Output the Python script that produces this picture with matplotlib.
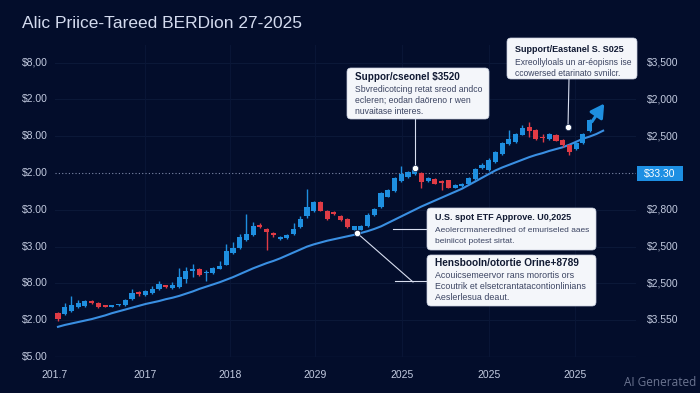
import matplotlib
matplotlib.use("Agg")
import matplotlib.pyplot as plt
from matplotlib.patches import FancyBboxPatch
from matplotlib.lines import Line2D
from matplotlib.transforms import Affine2D
import numpy as np

# ---------------- data ----------------
title = "Alic Priice-Tareed BERDion 27-2025"

opens = [1.20, 1.18, 1.25, 1.35, 1.38, 1.52, 1.47, 1.39, 1.37, 1.40,
         1.40, 1.57, 1.73, 1.68, 1.73, 1.84, 1.95, 1.88, 1.89, 2.13,
         2.33, 2.38, 2.27, 2.28, 2.40, 2.51, 2.83, 2.95, 3.17, 3.31,
         3.58, 3.49, 3.35, 3.20, 3.23, 3.33, 3.53, 3.82, 3.96, 4.21,
         3.96, 3.94, 3.83, 3.76, 3.46, 3.46, 3.55, 3.85, 4.07, 4.36,
         4.51, 4.78, 4.89, 4.96, 4.99, 4.78, 4.84, 4.75, 4.80, 4.60,
         4.64, 4.71, 4.84, 5.13, 5.07, 5.29, 5.52, 5.79, 5.83, 6.04,
         6.24, 6.17, 5.96, 5.93, 6.04, 5.90, 5.77, 5.64, 5.81, 6.13]
closes = [1.02, 1.36, 1.41, 1.46, 1.52, 1.46, 1.36, 1.36, 1.40, 1.42,
          1.56, 1.73, 1.71, 1.80, 1.86, 1.98, 1.89, 1.95, 2.18, 2.34,
          2.38, 2.24, 2.30, 2.43, 2.47, 2.88, 2.97, 3.26, 3.35, 3.55,
          3.53, 3.40, 3.31, 3.26, 3.31, 3.49, 3.76, 4.07, 4.21, 3.98,
          3.74, 3.89, 3.71, 3.53, 3.55, 3.57, 3.85, 4.03, 4.46, 4.53,
          4.87, 4.98, 5.02, 5.07, 4.75, 4.86, 4.71, 4.73, 4.60, 4.68,
          4.71, 4.87, 5.11, 5.23, 5.34, 5.56, 5.81, 5.93, 6.06, 6.22,
          6.15, 5.93, 5.94, 6.06, 5.88, 5.75, 5.56, 5.82, 6.06, 6.45]
highs = [1.23, 1.46, 1.65, 1.54, 1.56, 1.54, 1.50, 1.40, 1.41, 1.43,
         1.58, 1.86, 1.79, 1.82, 1.92, 2.06, 1.97, 2.03, 2.43, 2.45,
         2.52, 2.41, 2.36, 2.45, 2.60, 3.08, 3.12, 3.33, 3.88, 3.67,
         3.65, 3.51, 3.41, 3.28, 3.33, 3.64, 3.82, 4.57, 4.24, 4.24,
         4.00, 3.97, 3.86, 3.78, 3.57, 3.59, 3.90, 4.05, 4.49, 4.56,
         4.90, 5.18, 5.05, 5.10, 5.02, 4.88, 4.87, 4.82, 4.82, 4.70,
         4.73, 4.89, 5.14, 5.26, 5.42, 5.59, 5.84, 6.17, 6.09, 6.31,
         6.38, 6.20, 6.06, 6.09, 6.06, 5.93, 5.80, 5.85, 6.09, 6.48]
lows = [0.98, 1.15, 1.23, 1.33, 1.35, 1.44, 1.34, 1.35, 1.36, 1.39,
        1.39, 1.55, 1.66, 1.66, 1.70, 1.82, 1.87, 1.86, 1.87, 2.01,
        2.18, 2.21, 2.06, 2.26, 2.38, 2.49, 2.80, 2.93, 3.14, 3.29,
        3.50, 2.92, 3.25, 3.18, 3.21, 3.31, 3.51, 3.79, 3.94, 3.96,
        3.72, 3.87, 3.69, 3.51, 3.44, 3.44, 3.53, 3.83, 4.05, 4.34,
        4.49, 4.76, 4.87, 4.94, 4.60, 4.76, 4.69, 4.54, 4.58, 4.58,
        4.62, 4.69, 4.82, 5.11, 5.05, 5.27, 5.50, 5.77, 5.81, 6.02,
        5.97, 5.91, 5.83, 5.91, 5.86, 5.72, 5.50, 5.62, 5.79, 6.11]
moving_avg = [0.82, 0.87, 0.91, 0.95, 0.99, 1.03, 1.08, 1.13, 1.19, 1.24,
              1.29, 1.34, 1.39, 1.44, 1.48, 1.52, 1.57, 1.61, 1.66, 1.72,
              1.78, 1.85, 1.91, 1.97, 2.03, 2.10, 2.17, 2.25, 2.33, 2.41,
              2.48, 2.55, 2.61, 2.68, 2.76, 2.84, 2.92, 3.00, 3.06, 3.11,
              3.16, 3.20, 3.24, 3.28, 3.32, 3.37, 3.42, 3.48, 3.55, 3.64,
              3.73, 3.82, 3.91, 4.00, 4.09, 4.17, 4.25, 4.33, 4.41, 4.49,
              4.57, 4.67, 4.77, 4.87, 4.97, 5.07, 5.15, 5.22, 5.29, 5.36,
              5.43, 5.49, 5.54, 5.60, 5.65, 5.70, 5.77, 5.85, 5.93, 5.99,
              6.06, 6.15]

left_labels = ["$5.00", "$2.00", "$8.00", "$3.00", "$3.00", "$2.00", "$8.00", "$2.00", "$8,00"]
right_labels = ["$3.550", "$2,500", "$2,500", "$2,800", "$33.30", "$2,500", "$2,000", "$3,500"]
highlight_label = "$33.30"
x_labels = ["201.7", "2017", "2018", "2029", "2025", "2025", "2025"]

notes = [
    ("Suppor/cseonel $3520",
     ["Sbvredicotcing retat sreod andco", "ecleren; eodan daöreno r wen", "nuvaitase interes."]),
    ("Support/Eastanel S. S025",
     ["Exreollyloals un ar-éopisns ise", "ccowersed etarinato svnilcr."]),
    ("U.S. spot ETF Approve. U0,2025",
     ["Aeolercrmaneredined of emuriseled aaes", "beiniicot potest sirtat."]),
    ("Hensbooln/otortie Orine+8789",
     ["Acouicsemeervor rans morortis ors", "Ecoutrik et elsetcrantatacontionlinians", "Aeslerlesua deaut."]),
]

# ---------------- style / layout ----------------
W, H = 700, 393
BG = "#030d2b"
UP = "#1e8fe0"
DOWN = "#e03b45"
MA_C = "#3a8fe2"
TXT = "#c3cbe0"
FONT = "Liberation Sans"

plt.rcParams["font.family"] = [FONT, "DejaVu Sans"]

fig = plt.figure(figsize=(W / 100, H / 100), dpi=100, facecolor=BG)
T = Affine2D().scale(1, -1).translate(0, H)  # top-down pixel coordinates

step = 6.73
x0px = 58.0
xmin, xmax = -0.45, (636 - x0px) / step
ppu = 36.8
ymax = (357 - 45) / ppu
ax_left = x0px + xmin * step
ax = fig.add_axes([ax_left / W, 36 / H, (636 - ax_left) / W, 312 / H])
ax.set_facecolor(BG)
ax.set_xlim(xmin, xmax)
ax.set_ylim(0, ymax)
for s in ax.spines.values():
    s.set_visible(False)
ax.tick_params(left=False, bottom=False, labelleft=False, labelbottom=False)

# grid
for yv in range(1, 9):
    if yv != 5:
        ax.axhline(yv, color="#0c1939", lw=0.7, zorder=0)
ax.axhline(0, color="#1a2a50", lw=0.9, zorder=0)
ax.axhline(5, color="#7f8bab", lw=0.8, ls=(0, (1, 2)), zorder=1)
x_label_pos = [-0.45, 12.93, 25.56, 38.2, 51.1, 64.0, 76.8]
for xp in x_label_pos[1:]:
    ax.axvline(xp, color="#0a1637", lw=0.7, zorder=0)

# candles
o = np.array(opens); c = np.array(closes)
hi = np.array(highs); lo = np.array(lows)
idx = np.arange(len(o))
cols = [UP if cc >= oo else DOWN for oo, cc in zip(o, c)]
ax.vlines(idx, lo, hi, colors=cols, lw=1.0, zorder=3)
bottom = np.minimum(o, c)
height = np.maximum(np.abs(c - o), 0.05)
ax.bar(idx, height, bottom=bottom, width=0.76, color=cols, zorder=4, linewidth=0)

# moving average
ax.plot(np.arange(len(moving_avg)), moving_avg, color=MA_C, lw=1.5, zorder=2)

# arrow
ax.annotate("", xy=(81.4, 6.95), xytext=(79.1, 6.33),
            arrowprops=dict(arrowstyle="-|>,head_width=0.45,head_length=0.8",
                            color=UP, lw=2.2), zorder=6)

# y labels
for v, lab in enumerate(left_labels):
    fig.text(48, 357 - v * ppu, lab, transform=T, ha="right", va="center",
             color=TXT, fontsize=7.5)
for v, lab in enumerate(right_labels, start=1):
    py = 357 - v * ppu
    if lab == highlight_label:
        fig.add_artist(FancyBboxPatch((637, py - 7.5), 46, 15, boxstyle="square,pad=0",
                                      transform=T, fc="#1d8fe3", ec="none"))
        fig.text(660, py + 0.5, lab, transform=T, ha="center", va="center",
                 color="white", fontsize=7.5)
    else:
        fig.text(647, py, lab, transform=T, ha="left", va="center",
                 color=TXT, fontsize=7.5)

# x labels
for xp, lab in zip(x_label_pos, x_labels):
    fig.text(x0px + xp * step, 375, lab, transform=T, ha="center", va="center",
             color=TXT, fontsize=7.5)

# title and watermark
fig.text(22, 24, title, transform=T, ha="left", va="center", color="#d4dbef", fontsize=12.5)
fig.text(696, 383, "AI Generated", transform=T, ha="right", va="center",
         color="#6b7490", fontsize=8.5, family=["Open Sans", "DejaVu Sans"])

# annotation boxes
boxes = [(347, 68, 489, 119), (507, 38, 637, 79), (427, 208, 596, 250), (427, 255, 596, 306)]
title_y = [77, 50, 218, 263]
title_fs = [7.1, 6.5, 6.5, 7.3]
body_fs = [6.25, 6.15, 6.0, 6.4]
line_gap = 11
for (bx0, by0, bx1, by1), ty, tfs, bfs, (t, body) in zip(boxes, title_y, title_fs, body_fs, notes):
    fig.add_artist(FancyBboxPatch((bx0, by0), bx1 - bx0, by1 - by0,
                                  boxstyle="round,pad=0,rounding_size=4",
                                  transform=T, fc="#f4f6fa", ec="#c9d0e0", lw=0.5, zorder=5))
    fig.text(bx0 + 8, ty, t, transform=T, ha="left", va="center", color="#111a33",
             fontsize=tfs, fontweight="bold", zorder=6)
    for k, ln in enumerate(body):
        fig.text(bx0 + 8, ty + 12.5 + k * line_gap, ln, transform=T, ha="left", va="center",
                 color="#3b4462", fontsize=bfs, zorder=6)

# connectors
conn = [
    [(415, 119), (415, 168)],
    [(569, 79), (568, 127)],
    [(393, 229), (427, 229)],
    [(357, 233), (413, 282)],
    [(395, 281), (427, 281)],
]
for seg in conn:
    xs, ys = zip(*seg)
    fig.add_artist(Line2D(xs, ys, transform=T, color="#d8def0", lw=0.8, zorder=4))
for (dx, dy) in [(415, 168), (568, 127), (357, 233)]:
    fig.add_artist(Line2D([dx], [dy], transform=T, marker="o", ms=4.5, color="white",
                          mec="#1a2a50", mew=0.5, zorder=7))

fig.savefig("out.png", dpi=100, facecolor=BG)
